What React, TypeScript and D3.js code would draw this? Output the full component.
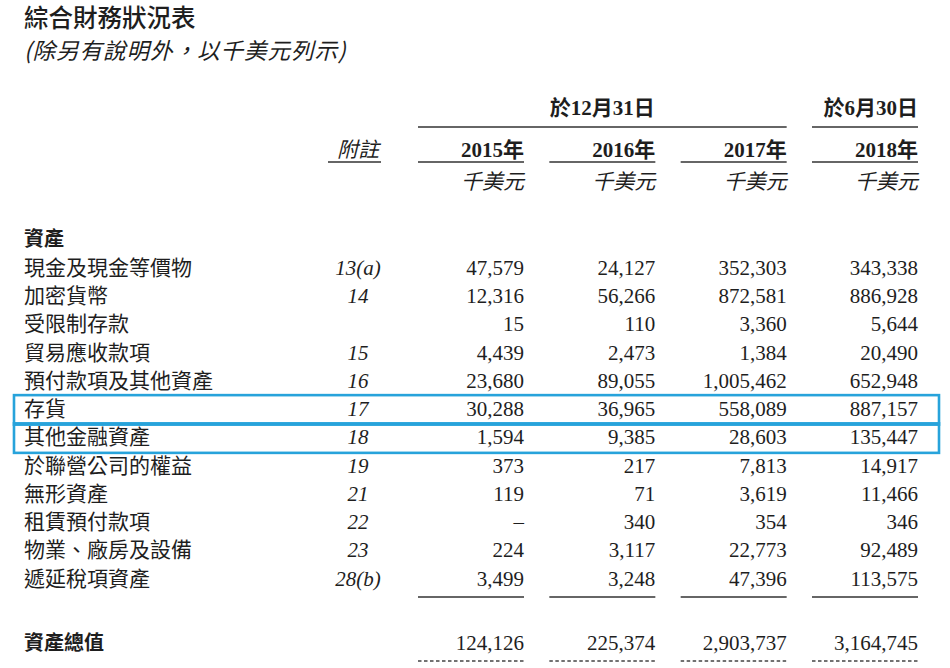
import React from 'react';
import * as d3 from 'd3';

const title = '綜合財務狀況表';
const subtitle = '(除另有說明外，以千美元列示)';
const groupLabels = ['於12月31日', '於6月30日'];
const groupSpans = [[0, 2], [3, 3]];
const years = ['2015年', '2016年', '2017年', '2018年'];
const unitLabel = '千美元';
const noteHeader = '附註';
const sectionLabel = '資產';
const items = [
  '現金及現金等價物', '加密貨幣', '受限制存款', '貿易應收款項', '預付款項及其他資產',
  '存貨', '其他金融資產', '於聯營公司的權益', '無形資產', '租賃預付款項',
  '物業、廠房及設備', '遞延稅項資產',
];
const notes = ['13(a)', '14', '', '15', '16', '17', '18', '19', '21', '22', '23', '28(b)'];
const v2015 = [47579, 12316, 15, 4439, 23680, 30288, 1594, 373, 119, null, 224, 3499];
const v2016 = [24127, 56266, 110, 2473, 89055, 36965, 9385, 217, 71, 340, 3117, 3248];
const v2017 = [352303, 872581, 3360, 1384, 1005462, 558089, 28603, 7813, 3619, 354, 22773, 47396];
const v2018 = [343338, 886928, 5644, 20490, 652948, 887157, 135447, 14917, 11466, 346, 92489, 113575];
const totalLabel = '資產總值';
const totals = [124126, 225374, 2903737, 3164745];
const highlighted = ['存貨', '其他金融資產'];

const cjk = '"Noto Sans CJK TC", "Noto Sans CJK SC", sans-serif';
const serif = '"Liberation Serif", "Noto Sans CJK TC", serif';
const ink = '#1e1e1e';
const blue = '#27a3db';

export default function App() {
  const series = [v2015, v2016, v2017, v2018];
  const fmt = d3.format(',');
  const colRight = d3.scaleLinear().domain([0, years.length - 1]).range([524, 918]);
  const colWidth = 106;
  const rowY = d3.scaleLinear().domain([0, items.length - 1]).range([275, 585.5]);
  const noteX = 358;
  const labelX = 24;

  return (
    <svg width={950} height={668} style={{ position: 'absolute', left: 0, top: 0, background: '#fff' }}>
      <rect x={0} y={0} width={950} height={668} fill="#fff" />
      <text x={labelX} y={27} fontFamily={cjk} fontSize={24.5} fontWeight={500} fill={ink}>{title}</text>
      <text x={labelX} y={59} fontFamily={cjk} fontSize={22.5} fontStyle="italic" fill={ink} letterSpacing={1}>{subtitle}</text>

      {groupLabels.map((g, i) => {
        const [a, b] = groupSpans[i];
        const x0 = colRight(a) - colWidth;
        const x1 = colRight(b);
        const single = a === b;
        return (
          <g key={g}>
            <text x={single ? x1 : (x0 + x1) / 2} y={115} textAnchor={single ? 'end' : 'middle'}
              fontFamily={serif} fontSize={21} fontWeight={700} fill={ink}>{g}</text>
            <line x1={x0} x2={x1} y1={127} y2={127} stroke="#333" strokeWidth={1.6} />
          </g>
        );
      })}

      <text x={noteX} y={157} textAnchor="middle" fontFamily={cjk} fontSize={21} fontStyle="italic" fill={ink}>{noteHeader}</text>
      <line x1={328} x2={381} y1={162} y2={162} stroke="#333" strokeWidth={1.6} />

      {years.map((y, i) => (
        <g key={y}>
          <text x={colRight(i)} y={157} textAnchor="end" fontFamily={serif} fontSize={21} fontWeight={700} fill={ink}>{y}</text>
          <line x1={colRight(i) - colWidth} x2={colRight(i)} y1={162} y2={162} stroke="#333" strokeWidth={1.6} />
          <text x={colRight(i)} y={189} textAnchor="end" fontFamily={cjk} fontSize={21} fontStyle="italic" fill={ink}>{unitLabel}</text>
        </g>
      ))}

      <text x={labelX} y={246} fontFamily={cjk} fontSize={20} fontWeight={700} fill={ink}>{sectionLabel}</text>

      {items.map((name, r) => (
        <g key={name}>
          <text x={labelX} y={rowY(r)} fontFamily={cjk} fontSize={21} fill={ink}>{name}</text>
          {notes[r] && (
            <text x={noteX} y={rowY(r)} textAnchor="middle" fontFamily={serif} fontSize={21} fontStyle="italic" fill={ink}>{notes[r]}</text>
          )}
          {series.map((s, c) => (
            <text key={c} x={colRight(c)} y={rowY(r)} textAnchor="end" fontFamily={serif} fontSize={21} fill={ink}>
              {s[r] === null ? '–' : fmt(s[r] as number)}
            </text>
          ))}
        </g>
      ))}

      {highlighted.map((h) => {
        const r = items.indexOf(h);
        const y = rowY(r);
        return (
          <rect key={h} x={14} y={y - 21} width={925} height={29.5} fill="none" stroke={blue} strokeWidth={2.6} />
        );
      })}

      {years.map((y, i) => (
        <line key={'u' + y} x1={colRight(i) - colWidth} x2={colRight(i)} y1={597} y2={597} stroke="#333" strokeWidth={1.6} />
      ))}

      <text x={labelX} y={650} fontFamily={cjk} fontSize={20} fontWeight={700} fill={ink}>{totalLabel}</text>
      {totals.map((t, i) => (
        <g key={'t' + i}>
          <text x={colRight(i)} y={650} textAnchor="end" fontFamily={serif} fontSize={21} fill={ink}>{fmt(t)}</text>
          <line x1={colRight(i) - colWidth} x2={colRight(i)} y1={661} y2={661} stroke="#444" strokeWidth={1.4} strokeDasharray="3.5 2.5" />
        </g>
      ))}
    </svg>
  );
}
